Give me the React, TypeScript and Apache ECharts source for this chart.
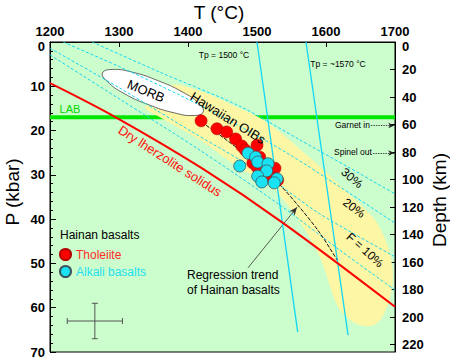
import React, { useEffect, useRef } from 'react';
import * as echarts from 'echarts';

// ---- axis ranges / ticks ----
const T_MIN = 1200;
const T_MAX = 1700;
const T_STEP = 100;
const P_MIN = 0;
const P_MAX = 70;
const P_STEP = 10;
const KM_PER_KBAR = 3.22;
const DEPTH_STEP = 20;

// ---- Hainan basalts (T °C, P kbar) ----
const tholeiite: number[][] = [
  [1419, 17.8], [1442, 19.6], [1456, 20.3], [1469, 21.9], [1478, 23.5],
  [1483, 24.4], [1500, 23.3], [1504, 26.0], [1494, 27.3], [1500, 28.2],
  [1526, 28.5], [1522, 30.7], [1530, 31.2],
];
const alkali: number[][] = [
  [1487, 25.1], [1498, 26.0], [1501, 27.1], [1475, 28.0], [1516, 27.5],
  [1514, 29.1], [1501, 30.3], [1529, 30.9], [1507, 31.6], [1525, 31.8],
];

// ---- reference curves ----
const solidus: number[][] = [
  [1200, 9.3], [1294, 16.9], [1420, 28.5], [1538, 40.9], [1700, 59.8],
];
const lab: number[][] = [[1200, 17], [1700, 17]];
const adiabat1500: number[][] = [[1500, 0], [1559, 65.5]];
const adiabat1570: number[][] = [[1571, 0], [1632, 66.2]];
const regression: number[][] = [
  [1420, 18.1], [1475, 24.4], [1530, 31.8], [1559, 36.8], [1591, 43.1], [1616, 49.2],
];
const meltLines: number[][][] = [
  [[1261, 0], [1359, 6.8], [1475, 14.5], [1562, 22.1], [1635, 28.5], [1700, 34.3]],
  [[1219, 0], [1301, 5.6], [1388, 12.0], [1475, 19.0], [1548, 25.5], [1620, 32.7], [1700, 40.9]],
  [[1200, 1.4], [1301, 10.4], [1406, 20.3], [1475, 26.6], [1526, 31.6], [1591, 38.8], [1700, 48.5]],
  [[1200, 2.9], [1301, 12.9], [1417, 24.4], [1533, 36.8], [1620, 47.0], [1700, 56.0]],
];
const hawaiianField: number[][] = [
  [1345, 13.1], [1377, 9.7], [1425, 11.5], [1468, 14.5], [1501, 16.9], [1533, 20.3],
  [1580, 26.6], [1627, 33.4], [1671, 40.2], [1690, 46.3], [1697, 52.2], [1693, 57.6],
  [1681, 62.3], [1667, 64.1], [1649, 63.9], [1635, 62.8], [1616, 59.4], [1591, 48.5],
  [1562, 40.6], [1519, 32.3], [1475, 28.5], [1417, 22.1], [1362, 17.2], [1338, 14.9],
];
const morbField: number[][] = [
  [1422, 15.8], [1409, 16.6], [1380, 16.0], [1342, 14.1], [1307, 11.6], [1283, 8.9],
  [1276, 7.0], [1290, 6.2], [1319, 6.8], [1356, 8.7], [1392, 11.3], [1416, 13.9],
];
const regressionArrow: number[][] = [[1487, 51.0], [1558, 37.3]];
const garnetArrow: number[][] = [[1665, 18.85], [1699, 18.85]];
const spinelArrow: number[][] = [[1668, 25.06], [1699, 25.06]];
const errCenter: number[] = [1265, 63];
const errT = 40;
const errP = 4;

const FONT = '"Liberation Sans", Arial, sans-serif';
const CYAN = '#12d6f5';

export default function App() {
  const ref = useRef<HTMLDivElement>(null);

  useEffect(() => {
    if (!ref.current) return;
    const chart = echarts.init(ref.current, undefined, { renderer: 'svg' });
    const depthMax = P_MAX * KM_PER_KBAR;

    const txt = (text: string, x: number, y: number, size: number, fill: string, rotDeg = 0, align = 'center') => ({
      type: 'text',
      x,
      y,
      rotation: (rotDeg * Math.PI) / 180,
      silent: true,
      z: 100,
      style: { text, fill, font: `${size}px ${FONT}`, align, verticalAlign: 'middle' },
    });

    const labelBase = { color: '#000', fontSize: 13, fontWeight: 'bold', fontFamily: FONT };
    const zeroRich = { z: { ...labelBase, padding: [9, 0, 0, 0] } };

    const option: any = {
      animation: false,
      grid: {
        left: 50, right: 55, top: 42, bottom: 10,
        show: true, backgroundColor: '#ccfdcc', borderColor: '#000', borderWidth: 1,
      },
      xAxis: {
        type: 'value', position: 'top', min: T_MIN, max: T_MAX, interval: T_STEP,
        axisLine: { show: true, lineStyle: { color: '#000', width: 1 } },
        axisTick: { show: true, inside: true, length: 5, lineStyle: { color: '#000' } },
        axisLabel: { ...labelBase, margin: 4, formatter: (v: number) => String(v) },
        splitLine: { show: false },
      },
      yAxis: [
        {
          type: 'value', position: 'left', inverse: true, min: P_MIN, max: P_MAX, interval: P_STEP,
          axisLine: { show: true, lineStyle: { color: '#000', width: 1 } },
          axisTick: { show: true, inside: true, length: 6, lineStyle: { color: '#000' } },
          minorTick: { show: true, splitNumber: 5, length: 3, lineStyle: { color: '#000' } },
          axisLabel: {
            ...labelBase, margin: 5, rich: zeroRich,
            formatter: (v: number) => (v === 0 ? '{z|0}' : String(v)),
          },
          splitLine: { show: false },
        },
        {
          type: 'value', position: 'right', inverse: true, min: 0, max: depthMax, interval: DEPTH_STEP,
          axisLine: { show: true, lineStyle: { color: '#000', width: 1 } },
          axisTick: { show: true, inside: true, length: 5, lineStyle: { color: '#000' } },
          axisLabel: {
            ...labelBase, margin: 7, rich: zeroRich,
            showMaxLabel: false,
            formatter: (v: number) =>
              v === 0 ? '{z|0}' : Math.abs(v % DEPTH_STEP) < 1e-6 ? String(v) : '',
          },
          splitLine: { show: false },
        },
      ],
      legend: {
        left: 59, top: 248, orient: 'vertical', itemWidth: 11, itemHeight: 11, itemGap: 4,
        padding: 0, icon: 'circle',
        textStyle: { fontSize: 12, fontFamily: FONT },
        data: [
          { name: 'Tholeiite', textStyle: { color: '#ff2a2a' } },
          { name: 'Alkali basalts', textStyle: { color: '#1ee0f0' } },
        ],
      },
      series: [
        {
          name: 'LAB', type: 'line', data: lab, symbol: 'none', silent: true,
          lineStyle: { color: '#00e600', width: 4 }, z: 1,
        },
        {
          name: 'Hawaiian OIBs', type: 'custom', data: [[1400, 20]], silent: true, z: 2,
          renderItem: (_p: any, api: any) => ({
            type: 'polygon',
            shape: { points: hawaiianField.map((d) => api.coord(d)), smooth: 0.3 },
            style: { fill: '#fdf6a4', stroke: 'none' },
          }),
        },
        {
          name: 'MORB', type: 'custom', data: [[1350, 10]], silent: true, z: 3,
          renderItem: (_p: any, api: any) => ({
            type: 'polygon',
            shape: { points: morbField.map((d) => api.coord(d)), smooth: 0.5 },
            style: { fill: '#ffffff', stroke: '#444', lineWidth: 0.8 },
          }),
        },
        ...meltLines.map((l, i) => ({
          name: 'melt' + i, type: 'line', data: l, symbol: 'none', smooth: 0.3, silent: true, z: 4,
          lineStyle: { color: CYAN, width: 1, type: [3, 2] },
        })),
        {
          name: 'Tp1500', type: 'line', data: adiabat1500, symbol: 'none', silent: true, z: 5,
          lineStyle: { color: CYAN, width: 1.3 },
        },
        {
          name: 'Tp1570', type: 'line', data: adiabat1570, symbol: 'none', silent: true, z: 5,
          lineStyle: { color: CYAN, width: 1.3 },
        },
        {
          name: 'solidus', type: 'line', data: solidus, symbol: 'none', smooth: 0.35, silent: true, z: 5,
          lineStyle: { color: '#ff0000', width: 2 },
        },
        {
          name: 'regression', type: 'line', data: regression, symbol: 'none', smooth: 0.3, silent: true, z: 6,
          lineStyle: { color: '#111', width: 1, type: [4, 1.5] },
        },
        {
          name: 'arrows', type: 'line', data: [], silent: true, z: 6,
          markLine: {
            silent: true, animation: false, symbol: ['none', 'arrow'], symbolSize: [5, 8],
            label: { show: false },
            lineStyle: { color: '#333', width: 0.8, type: 'solid' },
            data: [[{ coord: regressionArrow[0] }, { coord: regressionArrow[1] }]],
          },
        },
        {
          name: 'arrows2', type: 'line', data: [], silent: true, z: 6,
          markLine: {
            silent: true, animation: false, symbol: ['none', 'arrow'], symbolSize: [4, 6],
            label: { show: false },
            lineStyle: { color: '#222', width: 0.8, type: [1.5, 1] },
            data: [
              [{ coord: garnetArrow[0] }, { coord: garnetArrow[1] }],
              [{ coord: spinelArrow[0] }, { coord: spinelArrow[1] }],
            ],
          },
        },
        {
          name: 'error', type: 'custom', data: [errCenter], silent: true, z: 6,
          renderItem: (_p: any, api: any) => {
            const c = api.coord(errCenter);
            const l = api.coord([errCenter[0] - errT, errCenter[1]]);
            const r = api.coord([errCenter[0] + errT, errCenter[1]]);
            const t = api.coord([errCenter[0], errCenter[1] - errP]);
            const b = api.coord([errCenter[0], errCenter[1] + errP]);
            const st = { stroke: '#555', lineWidth: 1 };
            const cap = 3;
            return {
              type: 'group',
              children: [
                { type: 'line', shape: { x1: l[0], y1: c[1], x2: r[0], y2: c[1] }, style: st },
                { type: 'line', shape: { x1: c[0], y1: t[1], x2: c[0], y2: b[1] }, style: st },
                { type: 'line', shape: { x1: l[0], y1: c[1] - cap, x2: l[0], y2: c[1] + cap }, style: st },
                { type: 'line', shape: { x1: r[0], y1: c[1] - cap, x2: r[0], y2: c[1] + cap }, style: st },
                { type: 'line', shape: { x1: c[0] - cap, y1: t[1], x2: c[0] + cap, y2: t[1] }, style: st },
                { type: 'line', shape: { x1: c[0] - cap, y1: b[1], x2: c[0] + cap, y2: b[1] }, style: st },
              ],
            };
          },
        },
        {
          name: 'Tholeiite', type: 'scatter', data: tholeiite, symbol: 'circle', symbolSize: 12, z: 10,
          itemStyle: { color: '#ff0000', borderColor: '#b00000', borderWidth: 0.6, opacity: 1 },
        },
        {
          name: 'Alkali basalts', type: 'scatter', data: alkali, symbol: 'circle', symbolSize: 12, z: 11,
          itemStyle: { color: '#19e3f2', borderColor: '#3a5560', borderWidth: 0.8, opacity: 1 },
        },
      ],
      graphic: [
        txt('T (°C)', 219, 12, 19, '#000'),
        txt('P (kbar)', 12, 192, 19, '#000', 90),
        txt('Depth (km)', 439, 200, 19, '#000', 90),
        txt('LAB', 70, 109, 11, '#00d800'),
        txt('MORB', 146, 91, 13, '#000', -22),
        txt('Hawaiian OIBs', 228, 118, 13, '#000', -32),
        txt('Dry lherzolite solidus', 170, 161, 13, '#ff1010', -32.6),
        txt('Tp = 1500 °C', 224, 55, 8.5, '#000'),
        txt('Tp = ~1570 °C', 338, 64, 8.5, '#000'),
        txt('Garnet in', 335, 125, 8.5, '#000', 0, 'left'),
        txt('Spinel out', 334, 152, 8.5, '#000', 0, 'left'),
        txt('30%', 352, 178, 12, '#000', -40),
        txt('20%', 354, 208, 12, '#000', -37),
        txt('F = 10%', 365, 250, 12, '#000', -42),
        txt('Regression trend', 187, 274.5, 12, '#000', 0, 'left'),
        txt('of Hainan basalts', 187, 289.5, 12, '#000', 0, 'left'),
        txt('Hainan basalts', 60, 235, 12, '#000', 0, 'left'),
      ],
    };

    chart.setOption(option);
    return () => chart.dispose();
  }, []);

  return (
    <div
      ref={ref}
      style={{ position: 'fixed', left: 0, top: 0, width: 450, height: 362, background: '#fff' }}
    />
  );
}
